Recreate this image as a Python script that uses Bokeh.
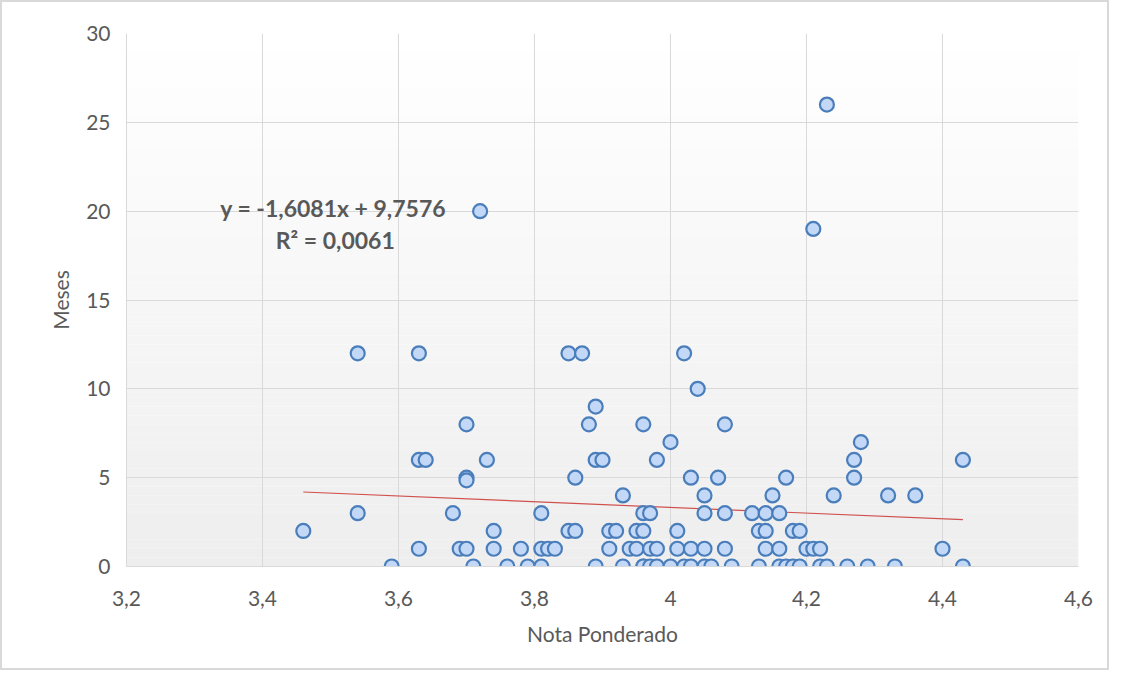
from bokeh.plotting import figure
from bokeh.models import FixedTicker, Label, BoxAnnotation
from bokeh.embed import file_html
from bokeh.resources import INLINE

# ---- data ----
nota = [
    4.23,
    3.72,
    4.21,
    3.54, 3.63, 3.85, 3.87, 4.02,
    4.04,
    3.89,
    3.70, 3.88, 3.96, 4.08,
    4.00, 4.28,
    3.63, 3.64, 3.73, 3.89, 3.90, 3.98, 4.27, 4.43,
    3.70, 3.70, 3.86, 4.03, 4.07, 4.17, 4.27,
    3.93, 4.05, 4.15, 4.24, 4.32, 4.36,
    3.54, 3.68, 3.81, 3.96, 3.97, 4.05, 4.08, 4.12, 4.14, 4.16,
    3.46, 3.74, 3.85, 3.86, 3.91, 3.92, 3.95, 3.96, 4.01, 4.13, 4.14, 4.18, 4.19,
    3.63, 3.69, 3.70, 3.74, 3.78, 3.81, 3.82, 3.83, 3.91, 3.94, 3.95, 3.97, 3.98,
    4.01, 4.03, 4.05, 4.08, 4.14, 4.16, 4.20, 4.21, 4.22, 4.40,
    3.59, 3.71, 3.76, 3.79, 3.81, 3.89, 3.93, 3.96, 3.96, 3.97, 3.98, 4.00, 4.02,
    4.03, 4.05, 4.06, 4.09, 4.13, 4.16, 4.17, 4.18, 4.19, 4.22, 4.23, 4.26, 4.29,
    4.33, 4.43,
]
meses = [
    26,
    20,
    19,
    12, 12, 12, 12, 12,
    10,
    9,
    8, 8, 8, 8,
    7, 7,
    6, 6, 6, 6, 6, 6, 6, 6,
    5, 4.85, 5, 5, 5, 5, 5,
    4, 4, 4, 4, 4, 4,
    3, 3, 3, 3, 3, 3, 3, 3, 3, 3,
    2, 2, 2, 2, 2, 2, 2, 2, 2, 2, 2, 2, 2,
    1, 1, 1, 1, 1, 1, 1, 1, 1, 1, 1, 1, 1,
    1, 1, 1, 1, 1, 1, 1, 1, 1, 1,
    0, 0, 0, 0, 0, 0, 0, 0, 0, 0, 0, 0, 0,
    0, 0, 0, 0, 0, 0, 0, 0, 0, 0, 0, 0, 0,
    0, 0,
]

slope = -1.6081
intercept = 9.7576
eq_text = "y = -1,6081x + 9,7576"
r2_text = "R² = 0,0061"

x_ticks = [3.2, 3.4, 3.6, 3.8, 4.0, 4.2, 4.4, 4.6]
x_tick_labels = ["3,2", "3,4", "3,6", "3,8", "4", "4,2", "4,4", "4,6"]
y_ticks = [0, 5, 10, 15, 20, 25, 30]

FONT = "Lato"
TXT = "#595959"
GRID = "#d9d9d9"

p = figure(
    width=1109, height=670,
    x_range=(3.2, 4.6), y_range=(0, 30),
    output_backend="svg", toolbar_location=None,
    min_border_left=124, min_border_right=33,
    min_border_top=31, min_border_bottom=106,
)
p.styles = {"border": "2px solid #d9d9d9", "box-sizing": "border-box"}

# gradient plot-area background (white at top -> light gray at bottom)
n_bands = 60
top_c = (255, 255, 255)
bot_c = (238, 238, 238)
for i in range(n_bands):
    t = i / (n_bands - 1)
    c = tuple(int(round(top_c[k] + (bot_c[k] - top_c[k]) * t)) for k in range(3))
    y_hi = 30 - 30 * i / n_bands
    y_lo = 30 - 30 * (i + 1) / n_bands
    p.add_layout(BoxAnnotation(bottom=y_lo, top=y_hi, fill_color="#%02x%02x%02x" % c,
                               fill_alpha=1.0, line_alpha=0, level="image"))

p.background_fill_color = "#ffffff"
p.border_fill_color = "#ffffff"
p.outline_line_color = None

p.xgrid.grid_line_color = GRID
p.ygrid.grid_line_color = GRID
p.xgrid.grid_line_width = 1
p.ygrid.grid_line_width = 1

p.xaxis.ticker = FixedTicker(ticks=x_ticks)
p.xaxis.major_label_overrides = {t: l for t, l in zip(x_ticks, x_tick_labels)}
p.yaxis.ticker = FixedTicker(ticks=y_ticks)

for ax in (p.xaxis, p.yaxis):
    ax.axis_line_color = GRID
    ax.major_tick_line_color = None
    ax.minor_tick_line_color = None
    ax.major_label_text_font = FONT
    ax.major_label_text_font_size = "21px"
    ax.major_label_text_color = TXT
    ax.axis_label_text_font = FONT
    ax.axis_label_text_font_size = "21px"
    ax.axis_label_text_color = TXT
    ax.axis_label_text_font_style = "normal"

p.xaxis.axis_label = "Nota Ponderado"
p.yaxis.axis_label = "Meses"
p.xaxis.major_label_standoff = 18
p.xaxis.axis_label_standoff = 12
p.yaxis.major_label_standoff = 10
p.yaxis.axis_label_standoff = 10

# trend line
x0, x1 = min(nota), max(nota)
p.line([x0, x1], [slope * x0 + intercept, slope * x1 + intercept],
       line_color="#d0504d", line_width=1.2)

# points
p.scatter(nota, meses, size=14, marker="circle",
          fill_color="#c3d7f7", line_color="#4a7ebb", line_width=2.2)

# equation labels
p.add_layout(Label(x=3.504, y=20.2, text=eq_text, text_align="center",
                   text_baseline="middle", text_font=FONT, text_font_size="23px",
                   text_font_style="bold", text_color=TXT))
p.add_layout(Label(x=3.507, y=18.4, text=r2_text, text_align="center",
                   text_baseline="middle", text_font=FONT, text_font_size="23px",
                   text_font_style="bold", text_color=TXT))

open("out.html", "w").write(file_html(p, INLINE))
